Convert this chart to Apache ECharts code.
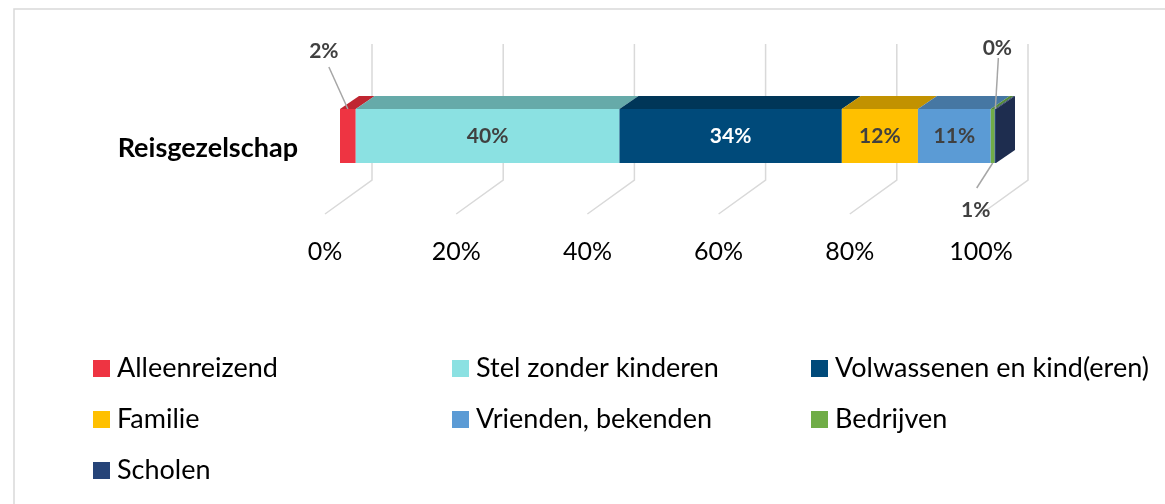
<!DOCTYPE html>
<html>
<head>
<meta charset="utf-8">
<script src="https://cdn.jsdelivr.net/npm/echarts@6/dist/echarts.min.js"></script>
<style>
  html, body { margin: 0; padding: 0; background: #fff; }
  #chart { width: 1165px; height: 504px; }
</style>
</head>
<body>
<div id="chart"></div>
<script>
// data
const categories = ['Reisgezelschap']
const seriesNames = ['Alleenreizend', 'Stel zonder kinderen', 'Volwassenen en kind(eren)', 'Familie', 'Vrienden, bekenden', 'Bedrijven', 'Scholen']
const values = [2.4, 40.2, 33.9, 11.6, 11.1, 0.6, 0.2]
const xTicks = [0, 20, 40, 60, 80, 100]

// styles per serie: front / top
const frontColors = ['#EE3442', '#8BE1E2', '#004A7A', '#FFC000', '#5B9BD5', '#70AD47', '#264478']
const topColors = ['#BF2631', '#66AAA9', '#003658', '#C29200', '#4677A3', '#54893A', '#1C3360']
const sideColor = '#1E2D4F'
const labelColors = ['#404040', '#404040', '#ffffff', '#404040', '#404040', '#404040', '#404040']
// callout labels (small segments): offsets from the anchor point
const callouts = {
  0: { anchor: 'top', line: [-19, -42], text: [-24, -58] },
  5: { anchor: 'bottom', line: [-16, 25], text: [-17, 47] },
  6: { anchor: 'top', line: [3, -51], text: [2, -61] }
}

const FONT = 'Lato'
const DX = 19, DY = -13 // bar depth

const chart = echarts.init(document.getElementById('chart'))

// start/end per segment
let acc = 0
const segments = values.map(v => {
  const s = [acc, acc + v, 0]
  acc += v
  return s
})

const barSeries = seriesNames.map((name, i) => ({
  name: name,
  type: 'custom',
  itemStyle: { color: frontColors[i] },
  data: [segments[i]],
  z: 3,
  renderItem: (params, api) => {
    const p0 = api.coord([api.value(0), api.value(2)])
    const p1 = api.coord([api.value(1), api.value(2)])
    const h = api.size([0, 1])[1]
    const x0 = p0[0], x1 = p1[0]
    const yTop = p0[1] - h / 2, yBot = p0[1] + h / 2
    const children = [
      { type: 'rect', shape: { x: x0, y: yTop, width: x1 - x0, height: h }, style: { fill: frontColors[i] } },
      { type: 'polygon', shape: { points: [[x0, yTop], [x1, yTop], [x1 + DX, yTop + DY], [x0 + DX, yTop + DY]] }, style: { fill: topColors[i] } }
    ]
    if (i === seriesNames.length - 1) {
      children.push({ type: 'polygon', shape: { points: [[x1, yTop], [x1 + DX, yTop + DY], [x1 + DX, yBot + DY], [x1, yBot]] }, style: { fill: sideColor } })
    }
    const txt = Math.round(values[i]) + '%'
    const cx = (x0 + x1) / 2
    const c = callouts[i]
    if (c) {
      const ay = c.anchor === 'top' ? yTop : yBot
      children.push({ type: 'line', shape: { x1: cx + c.line[0], y1: ay + c.line[1], x2: cx, y2: ay }, style: { stroke: '#A6A6A6', lineWidth: 1.5 } })
      children.push({ type: 'text', x: cx + c.text[0], y: ay + c.text[1], style: { text: txt, fill: '#404040', font: 'bold 21px ' + FONT, align: 'center', verticalAlign: 'middle' } })
    } else {
      children.push({ type: 'text', x: cx, y: p0[1], style: { text: txt, fill: labelColors[i], font: 'bold 21px ' + FONT, align: 'center', verticalAlign: 'middle' } })
    }
    return { type: 'group', children: children }
  }
}))

// 3D grid lines (back wall + floor)
const gridSeries = {
  type: 'custom',
  silent: true,
  z: 1,
  data: xTicks.map(t => [t]),
  renderItem: (params, api) => {
    const p = api.coord([api.value(0), 0])
    const h = api.size([0, 1])[1]
    const yTop = p[1] - h / 2, yBot = p[1] + h / 2
    return {
      type: 'polyline',
      shape: { points: [[p[0] + 32, yTop - 65], [p[0] + 32, yBot + 17], [p[0] - 15, yBot + 51]] },
      style: { stroke: '#D9D9D9', lineWidth: 1.5, fill: null }
    }
  }
}

const legendBase = {
  orient: 'vertical',
  icon: 'rect',
  itemWidth: 17,
  itemHeight: 17,
  itemGap: 24,
  top: 350,
  selectedMode: false,
  textStyle: { fontFamily: FONT, fontSize: 27, color: '#000', padding: [0, 0, 0, 2] }
}

chart.setOption({
  animation: false,
  grid: { left: 340, right: 169, top: 109, height: 54 },
  graphic: [{
    type: 'rect', x: 14, y: 9, silent: true,
    shape: { width: 1300, height: 700 },
    style: { fill: null, stroke: '#D9D9D9', lineWidth: 1.5 }
  }],
  legend: [
    Object.assign({}, legendBase, { left: 88, data: [seriesNames[0], seriesNames[3], seriesNames[6]] }),
    Object.assign({}, legendBase, { left: 447, data: [seriesNames[1], seriesNames[4]] }),
    Object.assign({}, legendBase, { left: 806, data: [seriesNames[2], seriesNames[5]] })
  ],
  xAxis: {
    type: 'value',
    min: 0,
    max: 100,
    interval: 20,
    splitLine: { show: false },
    axisLine: { show: false },
    axisTick: { show: false },
    axisLabel: {
      formatter: '{value}%',
      fontFamily: FONT,
      fontSize: 25,
      color: '#000',
      lineHeight: 26,
      margin: 76,
      padding: [0, 30, 0, 0]
    }
  },
  yAxis: {
    type: 'category',
    data: categories,
    axisLine: { show: false },
    axisTick: { show: false },
    axisLabel: {
      fontFamily: FONT,
      fontSize: 27,
      fontWeight: 'bold',
      color: '#000',
      margin: 42,
      verticalAlign: 'top',
      lineHeight: 24
    }
  },
  series: [gridSeries].concat(barSeries)
})
</script>
</body>
</html>
